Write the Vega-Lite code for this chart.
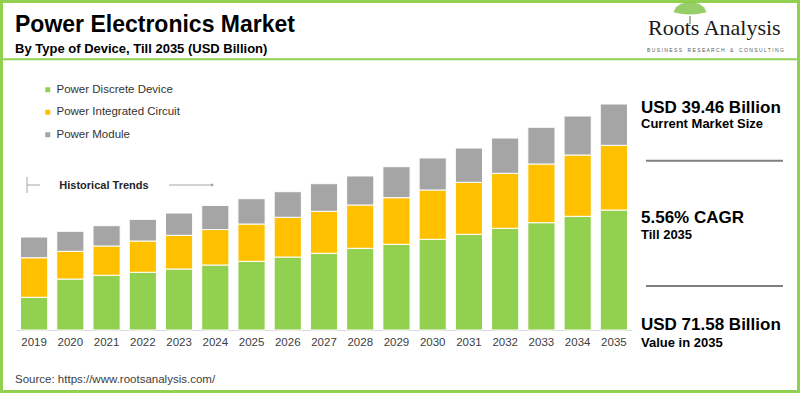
{
  "$schema": "https://vega.github.io/schema/vega-lite/v6.json",
  "width": 800,
  "height": 393,
  "autosize": "none",
  "padding": 0,
  "background": "white",
  "config": {
    "font": "Liberation Sans",
    "text": {"font": "Liberation Sans"},
    "view": {"stroke": "#92d050", "strokeWidth": 6}
  },
  "layer": [
    {
      "data": {"values": [
        {"year": "2019", "type": "Power Discrete Device", "value": 10.36},
        {"year": "2019", "type": "Power Integrated Circuit", "value": 12.54},
        {"year": "2019", "type": "Power Module", "value": 6.56},
        {"year": "2020", "type": "Power Discrete Device", "value": 16.15},
        {"year": "2020", "type": "Power Integrated Circuit", "value": 8.77},
        {"year": "2020", "type": "Power Module", "value": 6.34},
        {"year": "2021", "type": "Power Discrete Device", "value": 17.33},
        {"year": "2021", "type": "Power Integrated Circuit", "value": 9.28},
        {"year": "2021", "type": "Power Module", "value": 6.43},
        {"year": "2022", "type": "Power Discrete Device", "value": 18.28},
        {"year": "2022", "type": "Power Integrated Circuit", "value": 9.91},
        {"year": "2022", "type": "Power Module", "value": 6.87},
        {"year": "2023", "type": "Power Discrete Device", "value": 19.32},
        {"year": "2023", "type": "Power Integrated Circuit", "value": 10.67},
        {"year": "2023", "type": "Power Module", "value": 7.06},
        {"year": "2024", "type": "Power Discrete Device", "value": 20.59},
        {"year": "2024", "type": "Power Integrated Circuit", "value": 11.23},
        {"year": "2024", "type": "Power Module", "value": 7.64},
        {"year": "2025", "type": "Power Discrete Device", "value": 21.76},
        {"year": "2025", "type": "Power Integrated Circuit", "value": 11.81},
        {"year": "2025", "type": "Power Module", "value": 8.01},
        {"year": "2026", "type": "Power Discrete Device", "value": 23.12},
        {"year": "2026", "type": "Power Integrated Circuit", "value": 12.58},
        {"year": "2026", "type": "Power Module", "value": 8.11},
        {"year": "2027", "type": "Power Discrete Device", "value": 24.30},
        {"year": "2027", "type": "Power Integrated Circuit", "value": 13.30},
        {"year": "2027", "type": "Power Module", "value": 8.74},
        {"year": "2028", "type": "Power Discrete Device", "value": 25.88},
        {"year": "2028", "type": "Power Integrated Circuit", "value": 13.72},
        {"year": "2028", "type": "Power Module", "value": 9.19},
        {"year": "2029", "type": "Power Discrete Device", "value": 27.15},
        {"year": "2029", "type": "Power Integrated Circuit", "value": 14.76},
        {"year": "2029", "type": "Power Module", "value": 9.82},
        {"year": "2030", "type": "Power Discrete Device", "value": 28.73},
        {"year": "2030", "type": "Power Integrated Circuit", "value": 15.62},
        {"year": "2030", "type": "Power Module", "value": 10.14},
        {"year": "2031", "type": "Power Discrete Device", "value": 30.31},
        {"year": "2031", "type": "Power Integrated Circuit", "value": 16.47},
        {"year": "2031", "type": "Power Module", "value": 10.86},
        {"year": "2032", "type": "Power Discrete Device", "value": 32.21},
        {"year": "2032", "type": "Power Integrated Circuit", "value": 17.42},
        {"year": "2032", "type": "Power Module", "value": 11.18},
        {"year": "2033", "type": "Power Discrete Device", "value": 33.99},
        {"year": "2033", "type": "Power Integrated Circuit", "value": 18.59},
        {"year": "2033", "type": "Power Module", "value": 11.63},
        {"year": "2034", "type": "Power Discrete Device", "value": 36.01},
        {"year": "2034", "type": "Power Integrated Circuit", "value": 19.42},
        {"year": "2034", "type": "Power Module", "value": 12.35},
        {"year": "2035", "type": "Power Discrete Device", "value": 38.01},
        {"year": "2035", "type": "Power Integrated Circuit", "value": 20.49},
        {"year": "2035", "type": "Power Module", "value": 13.08}
      ]},
      "mark": {"type": "bar", "stroke": "white", "strokeWidth": 1},
      "encoding": {
        "x": {
          "field": "year", "type": "ordinal",
          "scale": {"range": [16, 632], "paddingInner": 0.25, "paddingOuter": 0.125},
          "axis": {"orient": "bottom", "offset": -63, "title": null, "domainColor": "#d9d9d9", "domainWidth": 1, "ticks": false, "grid": false, "labelAngle": 0, "labelFontSize": 11.5, "labelColor": "#404040", "labelPadding": 6, "labelFont": "Liberation Sans"}
        },
        "y": {
          "field": "value", "type": "quantitative", "stack": "zero",
          "scale": {"domain": [-19.955, 104.53], "nice": false, "zero": false},
          "axis": null
        },
        "color": {
          "field": "type", "type": "nominal",
          "scale": {"domain": ["Power Discrete Device", "Power Integrated Circuit", "Power Module"], "range": ["#92d050", "#ffc000", "#a5a5a5"]},
          "legend": {"orient": "none", "legendX": 42, "legendY": 84, "title": null, "symbolType": "square", "symbolSize": 25, "symbolStrokeWidth": 0, "labelFontSize": 11.5, "labelColor": "#333333", "labelFont": "Liberation Sans", "rowPadding": 9.5, "labelOffset": 3}
        },
        "order": {"field": "type", "sort": "ascending"}
      }
    },
    {
      "data": {"values": [{}]},
      "mark": {"type": "rule", "color": "#92d050", "strokeWidth": 2},
      "encoding": {"y": {"datum": 85.75}}
    },
    {
      "data": {"values": [{}]},
      "mark": {"type": "text", "align": "left", "baseline": "alphabetic", "dx": -5.5, "fontSize": 23, "fontWeight": "bold", "color": "#000000"},
      "encoding": {"x": {"datum": "2019", "type": "ordinal", "bandPosition": 0}, "y": {"datum": 94.49}, "text": {"datum": "Power Electronics Market"}}
    },
    {
      "data": {"values": [{}]},
      "mark": {"type": "text", "align": "left", "baseline": "alphabetic", "dx": -5.5, "fontSize": 13, "fontWeight": "bold", "color": "#000000"},
      "encoding": {"x": {"datum": "2019", "type": "ordinal", "bandPosition": 0}, "y": {"datum": 87.64}, "text": {"datum": "By Type of Device, Till 2035 (USD Billion)"}}
    },
    {
      "data": {"values": [{}]},
      "mark": {"type": "text", "align": "left", "baseline": "alphabetic", "dx": -5.5, "fontSize": 11.5, "color": "#404040"},
      "encoding": {"x": {"datum": "2019", "type": "ordinal", "bandPosition": 0}, "y": {"datum": -16.69}, "text": {"datum": "Source: https://www.rootsanalysis.com/"}}
    },
    {
      "data": {"values": [{}]},
      "mark": {"type": "text", "align": "left", "baseline": "alphabetic", "dx": 38.8, "fontSize": 11, "fontWeight": "bold", "color": "#262626"},
      "encoding": {"x": {"datum": "2019", "type": "ordinal", "bandPosition": 0}, "y": {"datum": 44.57}, "text": {"datum": "Historical Trends"}}
    },
    {
      "data": {"values": [{}]},
      "mark": {"type": "point", "shape": "M0,-1L0,1", "size": 256, "filled": false, "stroke": "#a6a6a6", "strokeWidth": 1, "opacity": 1},
      "encoding": {"x": {"datum": "2019", "type": "ordinal", "bandPosition": 0.24}, "y": {"datum": 45.93}}
    },
    {
      "data": {"values": [{}]},
      "mark": {"type": "point", "shape": "stroke", "size": 169, "filled": false, "stroke": "#a6a6a6", "strokeWidth": 1, "opacity": 1},
      "encoding": {"x": {"datum": "2019", "type": "ordinal", "bandPosition": 0.477}, "y": {"datum": 45.93}}
    },
    {
      "data": {"values": [{}]},
      "mark": {"type": "point", "shape": "stroke", "size": 1936, "filled": false, "stroke": "#a6a6a6", "strokeWidth": 1, "opacity": 1},
      "encoding": {"x": {"datum": "2023", "type": "ordinal", "bandPosition": 0.94}, "y": {"datum": 45.93}}
    },
    {
      "data": {"values": [{}]},
      "mark": {"type": "point", "shape": "triangle-right", "size": 14, "filled": true, "color": "#a6a6a6", "opacity": 1},
      "encoding": {"x": {"datum": "2024", "type": "ordinal", "bandPosition": 0.4}, "y": {"datum": 45.93}}
    },
    {
      "data": {"values": [{}]},
      "mark": {"type": "text", "align": "left", "baseline": "alphabetic", "dx": 40.7, "fontSize": 17, "fontWeight": "bold", "color": "#000000"},
      "encoding": {"x": {"datum": "2035", "type": "ordinal", "bandPosition": 0}, "y": {"datum": 68.64}, "text": {"datum": "USD 39.46 Billion"}}
    },
    {
      "data": {"values": [{}]},
      "mark": {"type": "text", "align": "left", "baseline": "alphabetic", "dx": 40.7, "fontSize": 13, "fontWeight": "bold", "color": "#000000"},
      "encoding": {"x": {"datum": "2035", "type": "ordinal", "bandPosition": 0}, "y": {"datum": 63.89}, "text": {"datum": "Current Market Size"}}
    },
    {
      "data": {"values": [{}]},
      "mark": {"type": "point", "shape": "stroke", "size": 18769, "filled": false, "stroke": "#7f7f7f", "strokeWidth": 2, "opacity": 1},
      "encoding": {"x": {"datum": "2035", "type": "ordinal", "bandPosition": 4.202}, "y": {"datum": 53.63}}
    },
    {
      "data": {"values": [{}]},
      "mark": {"type": "text", "align": "left", "baseline": "alphabetic", "dx": 40.7, "fontSize": 17, "fontWeight": "bold", "color": "#000000"},
      "encoding": {"x": {"datum": "2035", "type": "ordinal", "bandPosition": 0}, "y": {"datum": 33.99}, "text": {"datum": "5.56% CAGR"}}
    },
    {
      "data": {"values": [{}]},
      "mark": {"type": "text", "align": "left", "baseline": "alphabetic", "dx": 40.7, "fontSize": 13, "fontWeight": "bold", "color": "#000000"},
      "encoding": {"x": {"datum": "2035", "type": "ordinal", "bandPosition": 0}, "y": {"datum": 28.73}, "text": {"datum": "Till 2035"}}
    },
    {
      "data": {"values": [{}]},
      "mark": {"type": "point", "shape": "stroke", "size": 18769, "filled": false, "stroke": "#7f7f7f", "strokeWidth": 2, "opacity": 1},
      "encoding": {"x": {"datum": "2035", "type": "ordinal", "bandPosition": 4.202}, "y": {"datum": 13.94}}
    },
    {
      "data": {"values": [{}]},
      "mark": {"type": "text", "align": "left", "baseline": "alphabetic", "dx": 40.7, "fontSize": 17, "fontWeight": "bold", "color": "#000000"},
      "encoding": {"x": {"datum": "2035", "type": "ordinal", "bandPosition": 0}, "y": {"datum": 0}, "text": {"datum": "USD 71.58 Billion"}}
    },
    {
      "data": {"values": [{}]},
      "mark": {"type": "text", "align": "left", "baseline": "alphabetic", "dx": 40.7, "fontSize": 13, "fontWeight": "bold", "color": "#000000"},
      "encoding": {"x": {"datum": "2035", "type": "ordinal", "bandPosition": 0}, "y": {"datum": -5.48}, "text": {"datum": "Value in 2035"}}
    },
    {
      "data": {"values": [{}]},
      "mark": {"type": "point", "shape": "M-1,0.2L-0.85,-0.1L-0.55,-0.32L-0.2,-0.4L0.2,-0.4L0.55,-0.32L0.85,-0.1L1,0.2L0.5,0.3L0,0.33L-0.5,0.3Z", "size": 1089, "filled": true, "color": "#7dc242", "opacity": 0.8},
      "encoding": {"x": {"datum": "2035", "type": "ordinal", "bandPosition": 3.3}, "y": {"datum": 101.68}}
    },
    {
      "data": {"values": [{}]},
      "mark": {"type": "point", "shape": "M0,-1L0,1", "size": 64, "filled": false, "stroke": "#8a9a5b", "strokeWidth": 2, "opacity": 0.7},
      "encoding": {"x": {"datum": "2035", "type": "ordinal", "bandPosition": 3.3}, "y": {"datum": 98.2}}
    },
    {
      "data": {"values": [{}]},
      "mark": {"type": "text", "align": "left", "baseline": "alphabetic", "dx": 47.7, "fontSize": 22, "font": "Liberation Serif", "color": "#1a1a1a"},
      "encoding": {"x": {"datum": "2035", "type": "ordinal", "bandPosition": 0}, "y": {"datum": 93.44}, "text": {"datum": "Roots Analysis"}}
    },
    {
      "data": {"values": [{}]},
      "mark": {"type": "text", "align": "left", "baseline": "alphabetic", "dx": 46.7, "fontSize": 5, "color": "#595959"},
      "encoding": {"x": {"datum": "2035", "type": "ordinal", "bandPosition": 0}, "y": {"datum": 88.06}, "text": {"datum": "B U S I N E S S \u00a0 \u00a0R E S E A R C H \u00a0 \u00a0& \u00a0 \u00a0C O N S U L T I N G"}}
    }
  ]
}
